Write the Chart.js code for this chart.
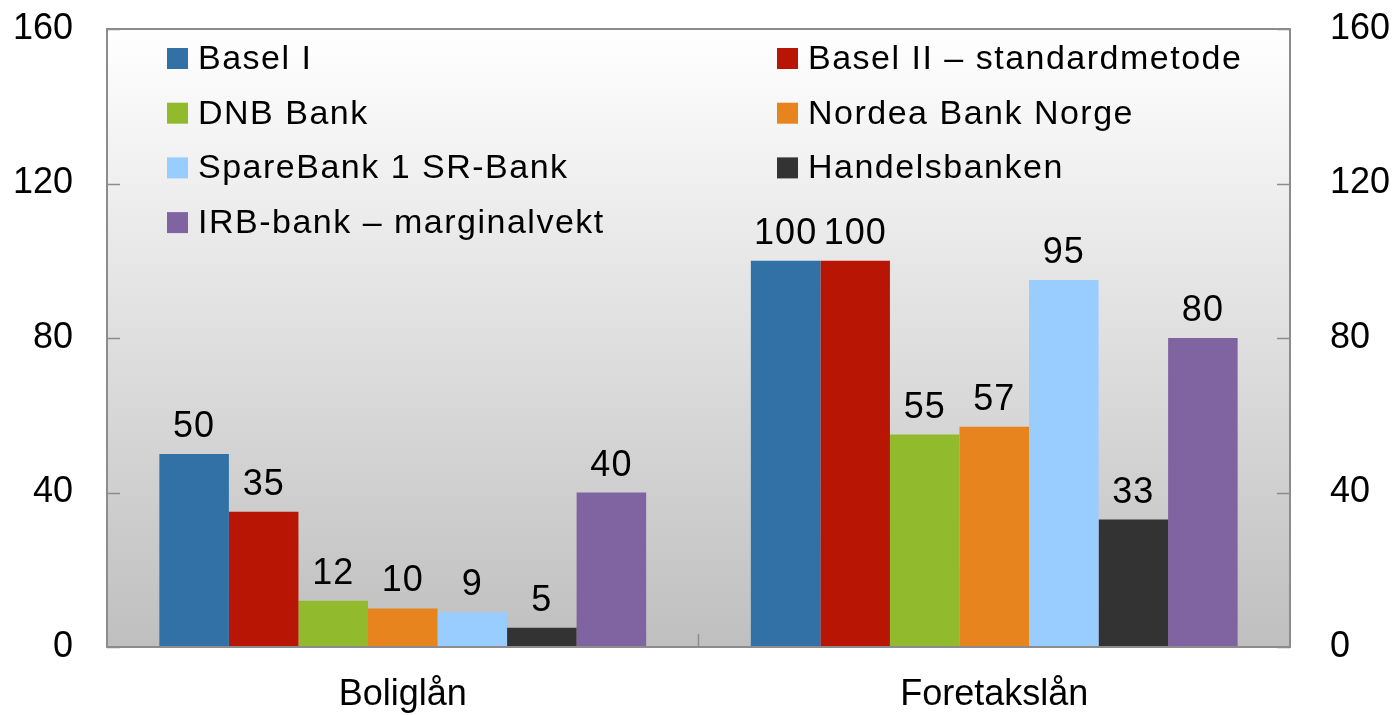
<!DOCTYPE html>
<html>
<head>
<meta charset="utf-8">
<script src="https://cdn.jsdelivr.net/npm/chart.js@4.4.1/dist/chart.umd.min.js"></script>
<style>
  html, body { margin: 0; padding: 0; background: #ffffff; }
  #wrap { width: 1392px; height: 715px; position: relative; }
</style>
</head>
<body>
<div id="wrap"><canvas id="c" width="1392" height="715"></canvas></div>
<script>
// ---- data ----
const categories = ['Boliglån', 'Foretakslån'];
const seriesNames = [
  'Basel I',
  'Basel II – standardmetode',
  'DNB Bank',
  'Nordea Bank Norge',
  'SpareBank 1 SR-Bank',
  'Handelsbanken',
  'IRB-bank – marginalvekt'
];
const baselI        = [50, 100];
const baselII       = [35, 100];
const dnb           = [12, 55];
const nordea        = [10, 57];
const sparebank     = [9, 95];
const handelsbanken = [5, 33];
const irbMarginal   = [40, 80];
const yTicks = [0, 40, 80, 120, 160];

const seriesValues = [baselI, baselII, dnb, nordea, sparebank, handelsbanken, irbMarginal];
const seriesColors = ['#3271a6', '#b81504', '#91bb2d', '#e8841d', '#99ccff', '#333333', '#8064a1'];

const FONT = '"Liberation Sans", Arial, sans-serif';

const bgPlugin = {
  id: 'bg',
  beforeDraw(chart) {
    const { ctx, chartArea: a } = chart;
    const g = ctx.createLinearGradient(0, a.top, 0, a.bottom);
    g.addColorStop(0, '#ffffff');
    g.addColorStop(1, '#bfbfbf');
    ctx.save();
    ctx.fillStyle = g;
    ctx.fillRect(a.left, a.top, a.right - a.left, a.bottom - a.top);
    ctx.restore();
  }
};

const framePlugin = {
  id: 'frame',
  afterDatasetsDraw(chart) {
    const { ctx, chartArea: a, scales } = chart;
    ctx.save();
    // value labels
    ctx.fillStyle = '#000';
    ctx.font = '36px ' + FONT;
    ctx.letterSpacing = '1px';
    ctx.textAlign = 'center';
    ctx.textBaseline = 'alphabetic';
    chart.data.datasets.forEach((ds, i) => {
      const meta = chart.getDatasetMeta(i);
      meta.data.forEach((el, j) => {
        ctx.fillText(String(ds.data[j]), el.x, el.y - 17);
      });
    });
    ctx.letterSpacing = '0px';
    // frame
    ctx.strokeStyle = '#8c8c8c';
    ctx.lineWidth = 2;
    ctx.strokeRect(a.left, a.top, a.right - a.left, a.bottom - a.top);
    // tick marks inside
    ctx.lineWidth = 1.5;
    yTicks.forEach(v => {
      const y = Math.round(scales.y.getPixelForValue(v)) + 0.5;
      ctx.beginPath();
      ctx.moveTo(a.left, y); ctx.lineTo(a.left + 13, y);
      ctx.moveTo(a.right - 13, y); ctx.lineTo(a.right, y);
      ctx.stroke();
    });
    const xs = scales.x;
    for (let k = 1; k < categories.length; k++) {
      const xm = (xs.getPixelForValue(k - 1) + xs.getPixelForValue(k)) / 2;
      ctx.beginPath();
      ctx.moveTo(xm, a.bottom); ctx.lineTo(xm, a.bottom - 13);
      ctx.stroke();
    }
    // legend (2 columns)
    ctx.font = '34px ' + FONT;
    ctx.letterSpacing = '1.5px';
    ctx.textAlign = 'left';
    ctx.textBaseline = 'middle';
    const colX = [167, 777];
    const rowY0 = 58.5, rowH = 54.7, box = 21;
    seriesNames.forEach((name, i) => {
      const col = i % 2, row = Math.floor(i / 2);
      const x = colX[col], y = rowY0 + row * rowH;
      ctx.fillStyle = seriesColors[i];
      ctx.fillRect(x, y - box / 2, box, box);
      ctx.fillStyle = '#000';
      ctx.fillText(name, x + 31, y + 1);
    });
    ctx.restore();
  }
};

const datasets = seriesNames.map((name, i) => ({
  label: name,
  data: seriesValues[i],
  backgroundColor: seriesColors[i],
  borderWidth: 0,
  categoryPercentage: 0.823,
  barPercentage: 1.0,
  yAxisID: 'y'
}));

function fitY(width) {
  return function (s) {
    s.width = width;
    s.paddingTop = 0;
    s.paddingBottom = 0;
  };
}

new Chart(document.getElementById('c'), {
  type: 'bar',
  data: { labels: categories, datasets },
  options: {
    responsive: false,
    animation: false,
    devicePixelRatio: 1,
    layout: { padding: { top: 29, left: 0, right: 0, bottom: 0 } },
    plugins: { legend: { display: false }, tooltip: { enabled: false } },
    scales: {
      x: {
        grid: { display: false, drawTicks: false },
        border: { display: false },
        ticks: { color: '#000', font: { family: FONT, size: 36 }, padding: 26 },
        afterFit(s) { s.height = 68; s.paddingLeft = 0; s.paddingRight = 0; }
      },
      y: {
        position: 'left',
        min: 0, max: 160,
        afterBuildTicks(s) { s.ticks = yTicks.map(v => ({ value: v })); },
        grid: { display: false, drawTicks: false },
        border: { display: false },
        ticks: { color: '#000', font: { family: FONT, size: 36 }, padding: 34 },
        afterFit: fitY(107)
      },
      y2: {
        position: 'right',
        min: 0, max: 160,
        afterBuildTicks(s) { s.ticks = yTicks.map(v => ({ value: v })); },
        grid: { display: false, drawTicks: false },
        border: { display: false },
        ticks: { color: '#000', font: { family: FONT, size: 36 }, padding: 40 },
        afterFit: fitY(102)
      }
    }
  },
  plugins: [bgPlugin, framePlugin]
});
</script>
</body>
</html>
